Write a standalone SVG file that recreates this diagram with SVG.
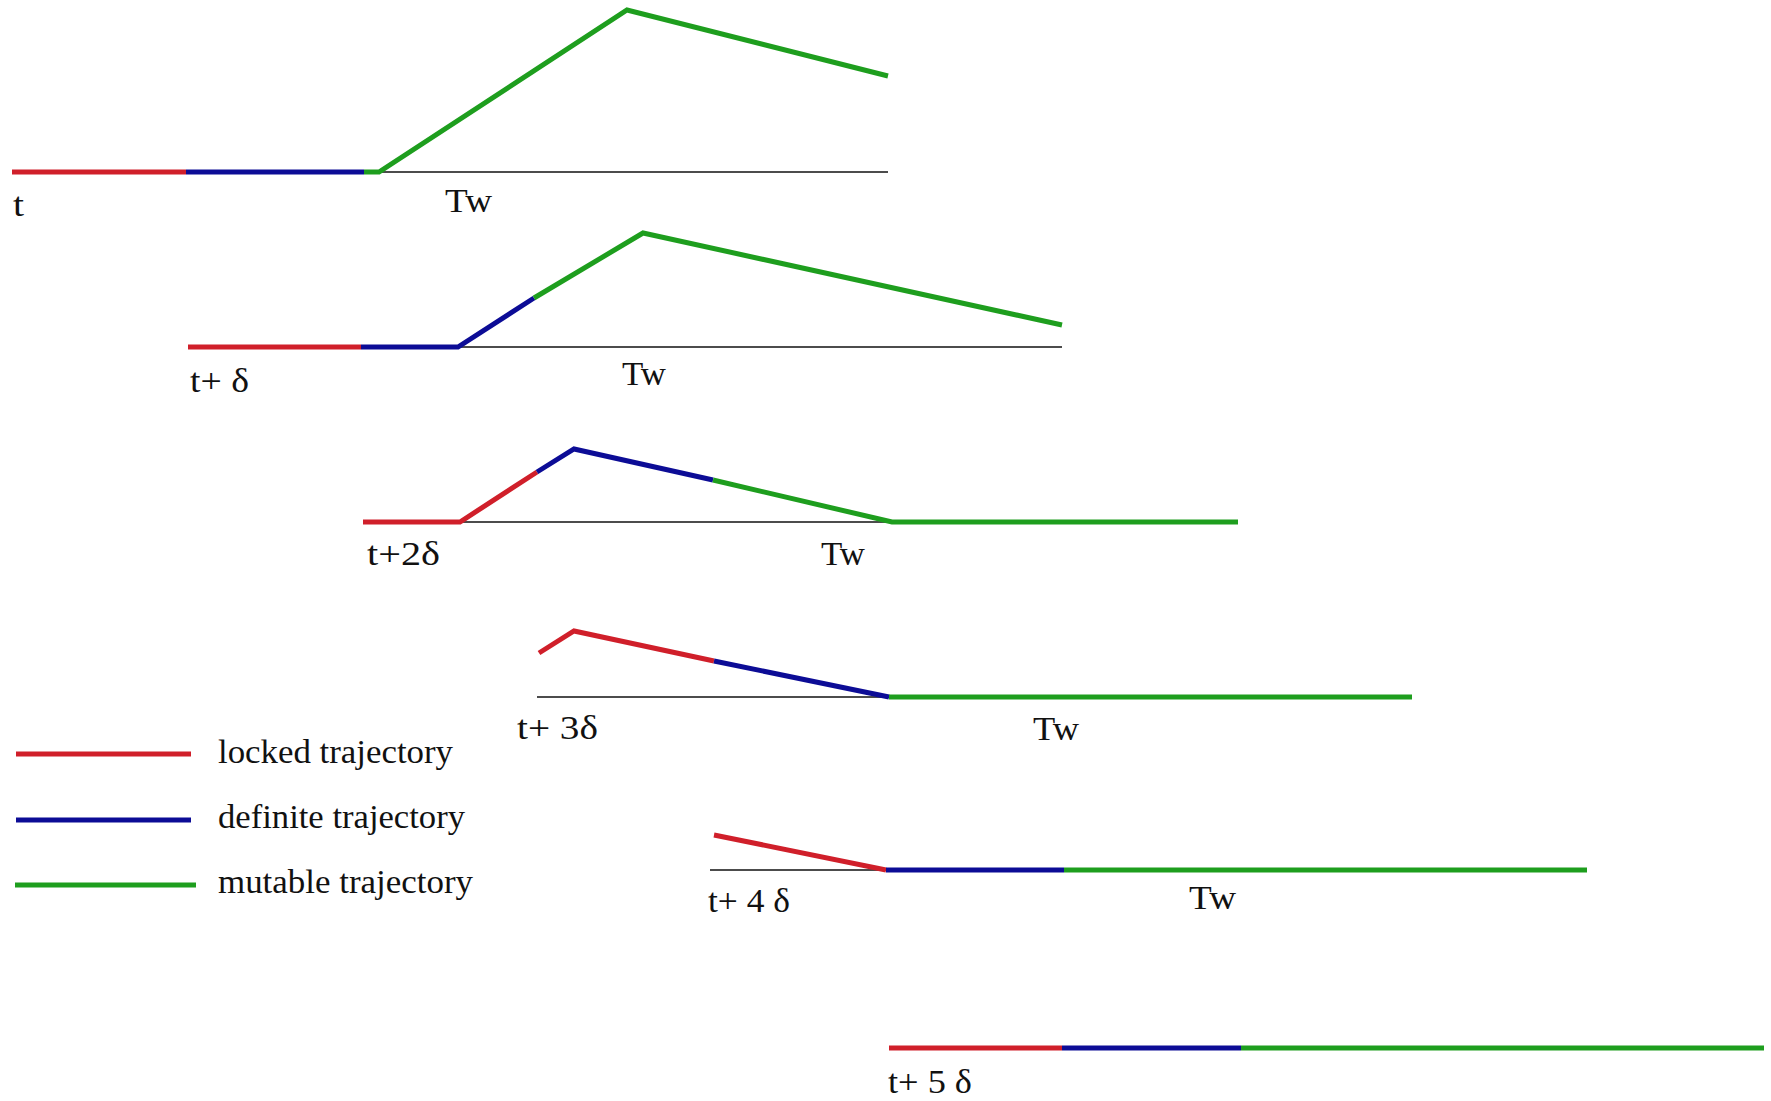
<svg xmlns="http://www.w3.org/2000/svg" width="1771" height="1101" viewBox="0 0 1771 1101">
<style>
.axis{stroke:#111;stroke-width:1.6;fill:none}
.lk{stroke:#d01f2a;stroke-width:5;fill:none;stroke-linejoin:miter}
.df{stroke:#0c0c96;stroke-width:5;fill:none;stroke-linejoin:miter}
.mu{stroke:#1e9e1e;stroke-width:5;fill:none;stroke-linejoin:miter}
text{font-family:"Liberation Serif","Times New Roman",serif;font-size:33px;fill:#111}
</style>
<rect width="1771" height="1101" fill="#fff"/>
<g id="row0">
<line class="axis" x1="378" y1="172" x2="888" y2="172"/>
<line class="lk" x1="12" y1="172" x2="186" y2="172"/>
<line class="df" x1="186" y1="172" x2="364" y2="172"/>
<polyline class="mu" points="364,172 379,172 627,10 888,76"/>
<text x="13" y="216" textLength="11" lengthAdjust="spacingAndGlyphs">t</text>
<text x="445" y="212" textLength="47" lengthAdjust="spacingAndGlyphs">Tw</text>
</g>
<g id="row1">
<line class="axis" x1="458" y1="347" x2="1062" y2="347"/>
<line class="lk" x1="188" y1="347" x2="361" y2="347"/>
<polyline class="df" points="361,347 458,347 534,298"/>
<polyline class="mu" points="534,298 643,233 1062,325"/>
<text x="190" y="392" textLength="59" lengthAdjust="spacingAndGlyphs">t+ δ</text>
<text x="622" y="385" textLength="44" lengthAdjust="spacingAndGlyphs">Tw</text>
</g>
<g id="row2">
<line class="axis" x1="460" y1="522" x2="892" y2="522"/>
<polyline class="lk" points="363,522 460,522 537,472"/>
<polyline class="df" points="537,472 574,449 713,480"/>
<polyline class="mu" points="713,480 892,522 1238,522"/>
<text x="367" y="565" textLength="73" lengthAdjust="spacingAndGlyphs">t+2δ</text>
<text x="821" y="565" textLength="44" lengthAdjust="spacingAndGlyphs">Tw</text>
</g>
<g id="row3">
<line class="axis" x1="537" y1="697" x2="889" y2="697"/>
<polyline class="lk" points="539,653 574,631 714,661"/>
<polyline class="df" points="714,661 889,697"/>
<line class="mu" x1="889" y1="697" x2="1412" y2="697"/>
<text x="517" y="739" textLength="81" lengthAdjust="spacingAndGlyphs">t+ 3δ</text>
<text x="1033" y="740" textLength="46" lengthAdjust="spacingAndGlyphs">Tw</text>
</g>
<g id="row4">
<line class="axis" x1="710" y1="870" x2="886" y2="870"/>
<polyline class="lk" points="714,835 886,870"/>
<line class="df" x1="886" y1="870" x2="1064" y2="870"/>
<line class="mu" x1="1064" y1="870" x2="1587" y2="870"/>
<text x="708" y="912" textLength="82" lengthAdjust="spacingAndGlyphs">t+ 4 δ</text>
<text x="1189" y="909" textLength="47" lengthAdjust="spacingAndGlyphs">Tw</text>
</g>
<g id="row5">
<line class="lk" x1="889" y1="1048" x2="1062" y2="1048"/>
<line class="df" x1="1062" y1="1048" x2="1241" y2="1048"/>
<line class="mu" x1="1241" y1="1048" x2="1764" y2="1048"/>
<text x="888" y="1093" textLength="84" lengthAdjust="spacingAndGlyphs">t+ 5 δ</text>
</g>
<g id="legend">
<line class="lk" x1="16" y1="754" x2="191" y2="754"/>
<line class="df" x1="16" y1="820" x2="191" y2="820"/>
<line class="mu" x1="15" y1="885" x2="196" y2="885"/>
<text x="218" y="763" textLength="235" lengthAdjust="spacingAndGlyphs">locked trajectory</text>
<text x="218" y="828" textLength="247" lengthAdjust="spacingAndGlyphs">definite trajectory</text>
<text x="218" y="893" textLength="255" lengthAdjust="spacingAndGlyphs">mutable trajectory</text>
</g>
</svg>
